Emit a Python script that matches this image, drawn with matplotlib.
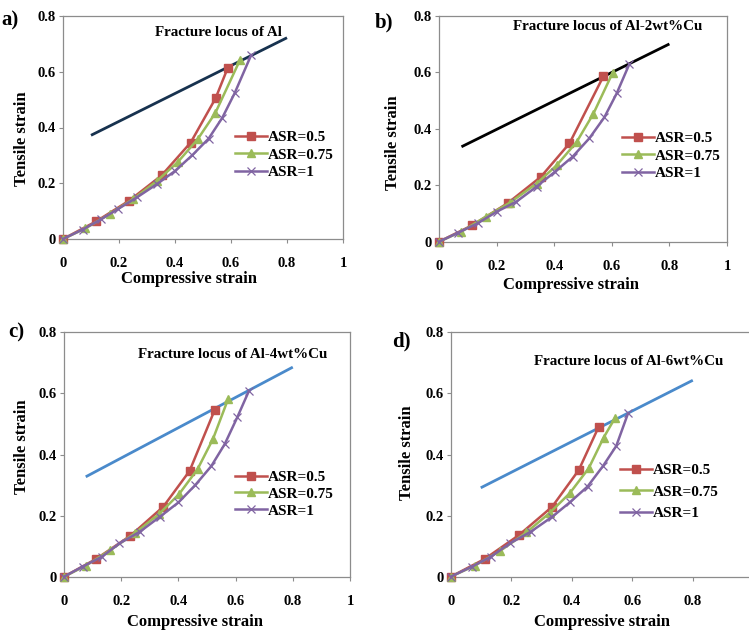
import matplotlib
matplotlib.use("Agg")
import matplotlib.pyplot as plt
from matplotlib.ticker import FuncFormatter

plt.rcParams['font.family'] = ['Liberation Serif', 'DejaVu Serif']
plt.rcParams['font.weight'] = 'bold'

# ---------------- data ----------------
series_labels = ["ASR=0.5", "ASR=0.75", "ASR=1"]
panel_tags = ["a)", "b)", "c)", "d)"]
panel_titles = ["Fracture locus of Al", "Fracture locus of Al-2wt%Cu",
                "Fracture locus of Al-4wt%Cu", "Fracture locus of Al-6wt%Cu"]

# panel a
a_r_x = [0, 0.118, 0.237, 0.352, 0.456, 0.545, 0.588]
a_r_y = [0, 0.063, 0.138, 0.228, 0.346, 0.505, 0.613]
a_g_x = [0, 0.080, 0.167, 0.250, 0.334, 0.410, 0.481, 0.544, 0.632]
a_g_y = [0, 0.038, 0.090, 0.143, 0.207, 0.276, 0.358, 0.452, 0.642]
a_p_x = [0, 0.070, 0.135, 0.197, 0.265, 0.334, 0.400, 0.462, 0.520, 0.569, 0.613, 0.672]
a_p_y = [0, 0.034, 0.070, 0.108, 0.150, 0.196, 0.244, 0.301, 0.360, 0.435, 0.523, 0.660]
a_f_x = [0.100, 0.800]
a_f_y = [0.372, 0.722]

# panel b
b_r_x = [0, 0.115, 0.238, 0.354, 0.453, 0.571]
b_r_y = [0, 0.058, 0.136, 0.230, 0.348, 0.586]
b_g_x = [0, 0.078, 0.162, 0.246, 0.339, 0.409, 0.478, 0.536, 0.603]
b_g_y = [0, 0.036, 0.088, 0.138, 0.206, 0.271, 0.353, 0.453, 0.598]
b_p_x = [0, 0.067, 0.134, 0.200, 0.269, 0.339, 0.403, 0.464, 0.522, 0.574, 0.617, 0.661]
b_p_y = [0, 0.032, 0.065, 0.106, 0.142, 0.195, 0.248, 0.301, 0.366, 0.440, 0.525, 0.629]
b_f_x = [0.078, 0.800]
b_f_y = [0.336, 0.700]

# panel c
c_r_x = [0, 0.112, 0.232, 0.347, 0.439, 0.527]
c_r_y = [0, 0.058, 0.134, 0.229, 0.346, 0.546]
c_g_x = [0, 0.076, 0.162, 0.247, 0.332, 0.402, 0.467, 0.521, 0.574]
c_g_y = [0, 0.036, 0.087, 0.142, 0.205, 0.270, 0.352, 0.451, 0.582]
c_p_x = [0, 0.065, 0.132, 0.194, 0.265, 0.335, 0.400, 0.459, 0.515, 0.562, 0.606, 0.647]
c_p_y = [0, 0.033, 0.065, 0.109, 0.147, 0.196, 0.243, 0.300, 0.362, 0.434, 0.522, 0.609]
c_f_x = [0.076, 0.800]
c_f_y = [0.327, 0.686]

# panel d
d_r_x = [0, 0.112, 0.225, 0.335, 0.423, 0.489]
d_r_y = [0, 0.058, 0.136, 0.229, 0.349, 0.491]
d_g_x = [0, 0.079, 0.164, 0.250, 0.327, 0.393, 0.456, 0.505, 0.542]
d_g_y = [0, 0.036, 0.085, 0.145, 0.209, 0.273, 0.355, 0.455, 0.518]
d_p_x = [0, 0.070, 0.132, 0.195, 0.264, 0.335, 0.393, 0.452, 0.503, 0.547, 0.586]
d_p_y = [0, 0.033, 0.065, 0.109, 0.147, 0.196, 0.243, 0.295, 0.362, 0.428, 0.535]
d_f_x = [0.099, 0.800]
d_f_y = [0.291, 0.643]

x_ticks = [0, 0.2, 0.4, 0.6, 0.8, 1.0]
x_ticks_d = [0, 0.2, 0.4, 0.6, 0.8]   # the "1" of panel d lies beyond the picture edge
y_ticks = [0, 0.2, 0.4, 0.6, 0.8]

panels = [
    (a_r_x, a_r_y, a_g_x, a_g_y, a_p_x, a_p_y, a_f_x, a_f_y),
    (b_r_x, b_r_y, b_g_x, b_g_y, b_p_x, b_p_y, b_f_x, b_f_y),
    (c_r_x, c_r_y, c_g_x, c_g_y, c_p_x, c_p_y, c_f_x, c_f_y),
    (d_r_x, d_r_y, d_g_x, d_g_y, d_p_x, d_p_y, d_f_x, d_f_y),
]

# ---------------- layout / style ----------------
W, H = 749, 634
fig = plt.figure(figsize=(W / 100, H / 100), dpi=100)

def px_rect(l, r, t, b):
    return [l / W, 1 - b / H, (r - l) / W, (b - t) / H]

rects = [px_rect(63, 343, 16, 239), px_rect(439, 727, 15.7, 241.7),
         px_rect(64, 350, 332.3, 576.7), px_rect(450.8, 753.3, 332.3, 576.7)]
fracture_colors = ['#17324f', '#000000', '#4a8acb', '#4a8acb']
col_r, col_g, col_p = '#c0504d', '#9bbb59', '#8064a2'

title_pos = [(0.554, 0.742), (0.584, 0.760), (0.589, 0.726), (0.588, 0.706)]
legend_pos = [(0.614, 0.487), (0.636, 0.487), (0.598, 0.435), (0.558, 0.463)]
legend_spacing = [0.25, 0.25, 0.2, 0.5]
xlabel_px = [(189, 279), (571, 285), (195, 622), (602, 622)]
ylabel_px = [(22, 139), (393, 143), (22, 447), (407, 453)]
tag_px = [(1, 20), (375, 22), (8, 332), (392, 341)]

def fmt(v, pos):
    if abs(v) < 1e-9:
        return '0'
    if abs(v - 1) < 1e-9:
        return '1'
    return '%.1f' % v

for i, (rx, ry, gx, gy, pxs, pys, fx, fy) in enumerate(panels):
    ax = fig.add_axes(rects[i])
    ax.plot(fx, fy, color=fracture_colors[i], lw=2.0, solid_capstyle='butt')
    ax.plot(rx, ry, color=col_r, lw=1.8, marker='s', ms=6, mec=col_r,
            mfc=col_r, label=series_labels[0], clip_on=False, zorder=3)
    ax.plot(gx, gy, color=col_g, lw=1.8, marker='^', ms=6, mec=col_g,
            mfc=col_g, label=series_labels[1], clip_on=False, zorder=3)
    ax.plot(pxs, pys, color=col_p, lw=1.8, marker='x', ms=5.5, mew=0.9,
            mec=col_p, label=series_labels[2], clip_on=False, zorder=3)
    ax.set_xlim(0, 1)
    ax.set_ylim(0, 0.8)
    ax.set_xticks(x_ticks_d if i == 3 else x_ticks)
    ax.set_yticks(y_ticks)
    ax.xaxis.set_major_formatter(FuncFormatter(fmt))
    ax.yaxis.set_major_formatter(FuncFormatter(fmt))
    for s in ax.spines.values():
        s.set_color('#8c8c8c')
        s.set_linewidth(0.9)
    ax.tick_params(axis='both', direction='out', length=3, width=0.8,
                   color='#8c8c8c', labelsize=10.5)
    ax.tick_params(axis='x', pad=10)
    ax.tick_params(axis='y', pad=2)
    for lab in ax.get_xticklabels() + ax.get_yticklabels():
        lab.set_fontweight('bold')

    ax.text(title_pos[i][0], title_pos[i][1], panel_titles[i], fontsize=10.8,
            fontweight='bold', ha='center', va='center',
            transform=ax.transData)

    ax.legend(loc='upper left', bbox_to_anchor=legend_pos[i],
              frameon=False, borderpad=0, borderaxespad=0,
              handlelength=2.1, handletextpad=0.05,
              labelspacing=legend_spacing[i],
              prop={'family': 'Liberation Serif', 'weight': 'bold',
                    'size': 11})

    fig.text(xlabel_px[i][0] / W, 1 - xlabel_px[i][1] / H, 'Compressive strain',
             fontsize=12, fontweight='bold', ha='center', va='center')
    fig.text(ylabel_px[i][0] / W, 1 - ylabel_px[i][1] / H, 'Tensile strain',
             fontsize=12, fontweight='bold', ha='center', va='center',
             rotation=90)
    fig.text(tag_px[i][0] / W, 1 - tag_px[i][1] / H, panel_tags[i],
             fontsize=15, fontweight='bold', ha='left', va='center')

fig.savefig('out.png', dpi=100)
